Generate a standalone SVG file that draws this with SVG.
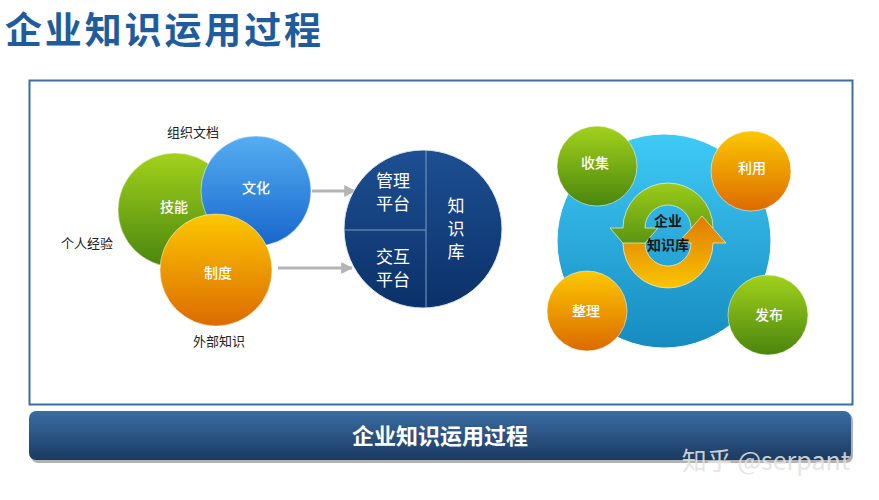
<svg xmlns="http://www.w3.org/2000/svg" width="879" height="500" viewBox="0 0 879 500">
<defs>
<linearGradient id="gGreen" x1="0" y1="0" x2="0" y2="1"><stop offset="0" stop-color="#a2d21c"/><stop offset="1" stop-color="#4a850e"/></linearGradient>
<linearGradient id="gBlue" x1="0" y1="0" x2="0" y2="1"><stop offset="0" stop-color="#55aef2"/><stop offset="1" stop-color="#1766cc"/></linearGradient>
<linearGradient id="gOrange" x1="0" y1="0" x2="0" y2="1"><stop offset="0" stop-color="#fcc800"/><stop offset="1" stop-color="#dc6a00"/></linearGradient>
<linearGradient id="gNavy" x1="0" y1="0" x2="0" y2="1"><stop offset="0" stop-color="#1d4f92"/><stop offset="1" stop-color="#0b3169"/></linearGradient>
<linearGradient id="gCyan" x1="0" y1="0" x2="0" y2="1"><stop offset="0" stop-color="#3fcaf6"/><stop offset="1" stop-color="#168bbf"/></linearGradient>
<linearGradient id="gBar" x1="0" y1="0" x2="0" y2="1"><stop offset="0" stop-color="#3a6da3"/><stop offset="1" stop-color="#1b3a60"/></linearGradient>
<linearGradient id="gArcG" x1="0" y1="0" x2="0" y2="1"><stop offset="0" stop-color="#9ccb1a"/><stop offset="1" stop-color="#4d8a0f"/></linearGradient>
<linearGradient id="gArcO" x1="0" y1="1" x2="0" y2="0"><stop offset="0" stop-color="#f9c400"/><stop offset="1" stop-color="#e07a00"/></linearGradient>
<marker id="arr" viewBox="0 0 10 10" refX="9" refY="5" markerWidth="4" markerHeight="4" orient="auto"><path d="M0,0 L10,5 L0,10 z" fill="#b4b4b4"/></marker>
</defs>
<style>
.cjk{font-family:"Noto Sans CJK SC","Noto Sans",sans-serif;}
.lbl{font-size:13px;fill:#222;text-anchor:middle;}
.wt{font-size:14px;fill:#ffffff;text-anchor:middle;font-weight:500;}
.nt{font-size:17px;fill:#ffffff;text-anchor:middle;}
.circ{stroke:#ffffff;stroke-opacity:0.5;stroke-width:1;}
</style>
<rect width="879" height="500" fill="#ffffff"/>
<text class="cjk" x="5" y="44" font-size="37" font-weight="bold" fill="#1e5c9e" textLength="316" lengthAdjust="spacing">企业知识运用过程</text>
<rect x="29.5" y="80.5" width="823" height="324" fill="#ffffff" stroke="#3d6ea3" stroke-width="2"/>

<g id="connectors">
<line x1="312" y1="191" x2="355" y2="191" stroke="#b4b4b4" stroke-width="3" marker-end="url(#arr)"/>
<line x1="278" y1="268" x2="352" y2="268" stroke="#b4b4b4" stroke-width="3" marker-end="url(#arr)"/>
</g>

<g id="skill"><circle class="circ" cx="175" cy="210" r="57" fill="url(#gGreen)"/><text class="cjk wt" x="174" y="212">技能</text></g>
<g id="culture"><circle class="circ" cx="256" cy="191" r="55" fill="url(#gBlue)"/><text class="cjk wt" x="256" y="193">文化</text></g>
<g id="system"><circle class="circ" cx="216" cy="270" r="56" fill="url(#gOrange)"/><text class="cjk wt" x="218" y="278">制度</text></g>
<g id="lbl-doc"><text class="cjk lbl" x="193" y="137">组织文档</text></g>
<g id="lbl-exp"><text class="cjk lbl" x="87" y="248">个人经验</text></g>
<g id="lbl-ext"><text class="cjk lbl" x="219" y="346">外部知识</text></g>

<g id="kb">
<circle cx="423" cy="229" r="79" fill="url(#gNavy)" stroke="#dfe8f2" stroke-width="1"/>
<line x1="426" y1="151" x2="426" y2="307" stroke="#7f9cc4" stroke-width="1"/>
<line x1="345" y1="230" x2="426" y2="230" stroke="#7f9cc4" stroke-width="1"/>
<text class="cjk nt" x="393" y="187">管理</text>
<text class="cjk nt" x="393" y="210">平台</text>
<text class="cjk nt" x="393" y="263">交互</text>
<text class="cjk nt" x="393" y="286">平台</text>
<text class="cjk nt" x="456" y="212">知</text>
<text class="cjk nt" x="456" y="235">识</text>
<text class="cjk nt" x="456" y="258">库</text>
</g>

<g id="enterprise-kb">
<circle cx="664" cy="241" r="107" fill="url(#gCyan)" stroke="#ffffff" stroke-width="1"/>
<path d="M713 228 A45 45 0 0 0 623 228 L610 228 L634 256 L658 228 L645 228 A23 23 0 0 1 691 228 Z" fill="url(#gArcG)" stroke="#ffffff" stroke-opacity="0.6" stroke-width="1"/>
<path d="M623 243 A45 45 0 0 0 713 243 L726 243 L702 216 L678 243 L691 243 A23 23 0 0 1 645 243 Z" fill="url(#gArcO)" stroke="#ffffff" stroke-opacity="0.6" stroke-width="1"/>
<text class="cjk" x="668" y="226" font-size="14" font-weight="bold" fill="#151515" text-anchor="middle">企业</text>
<text class="cjk" x="668" y="250" font-size="14" font-weight="bold" fill="#151515" text-anchor="middle">知识库</text>
</g>
<g id="collect"><circle class="circ" cx="597" cy="166" r="40" fill="url(#gGreen)"/><text class="cjk wt" x="595" y="168">收集</text></g>
<g id="use"><circle class="circ" cx="751" cy="171" r="40" fill="url(#gOrange)"/><text class="cjk wt" x="752" y="173">利用</text></g>
<g id="organize"><circle class="circ" cx="587" cy="311" r="40" fill="url(#gOrange)"/><text class="cjk wt" x="586" y="316">整理</text></g>
<g id="publish"><circle class="circ" cx="768" cy="315" r="40" fill="url(#gGreen)"/><text class="cjk wt" x="769" y="320">发布</text></g>

<g id="bar">
<rect x="31" y="413" width="822" height="50" rx="7" fill="#222" opacity="0.35"/>
<rect x="29" y="411" width="822" height="49" rx="7" fill="url(#gBar)"/>
<text class="cjk" x="440" y="444" font-size="22" font-weight="bold" fill="#ffffff" text-anchor="middle">企业知识运用过程</text>
</g>
<text x="766" y="470" font-family="'Noto Sans CJK SC','Noto Sans',sans-serif" font-size="25" fill="#e2e2e2" fill-opacity="0.9" text-anchor="middle">知乎 @serpant</text>
</svg>
